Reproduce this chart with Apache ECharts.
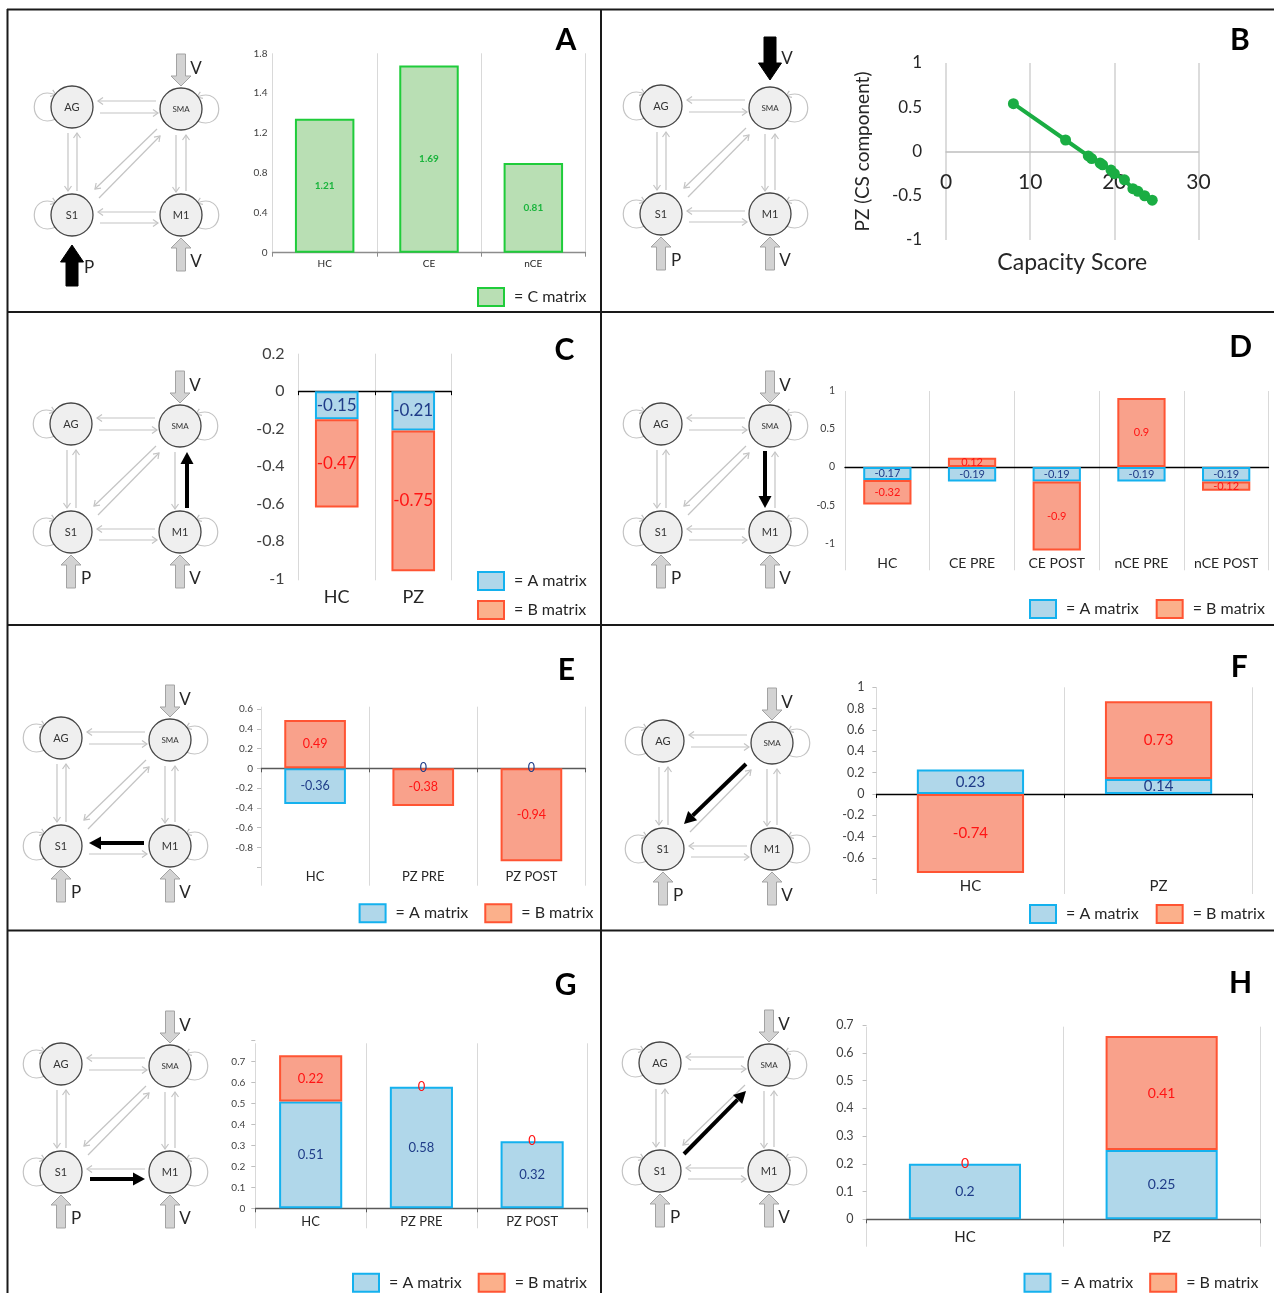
<!DOCTYPE html>
<html><head><meta charset="utf-8">
<script src="https://cdn.jsdelivr.net/npm/echarts@6/dist/echarts.min.js"></script>
<style>html,body{margin:0;padding:0;background:#fff}#c{width:1274px;height:1293px}</style>
</head><body><div id="c"></div>
<script>
// ---------------- DATA ----------------
const catA = ['HC', 'CE', 'nCE'];
const cMatrixA = [1.21, 1.69, 0.81];
const tickLabelsA = ['0', '0.4', '0.8', '1.2', '1.4', '1.8'];

const capacityScoreB = [8.0, 14.2, 16.9, 17.3, 18.3, 18.6, 19.6, 20.0, 21.2, 22.2, 22.8, 23.6, 24.5];
const pzCsB = [0.54, 0.13, -0.05, -0.08, -0.13, -0.15, -0.21, -0.25, -0.32, -0.42, -0.45, -0.50, -0.55];

const catC = ['HC', 'PZ'];
const aC = [-0.15, -0.21];
const bC = [-0.47, -0.75];

const catD = ['HC', 'CE PRE', 'CE POST', 'nCE PRE', 'nCE POST'];
const aD = [-0.17, -0.19, -0.19, -0.19, -0.19];
const bD = [-0.32, 0.12, -0.9, 0.9, -0.12];

const catE = ['HC', 'PZ PRE', 'PZ POST'];
const aE = [-0.36, 0, 0];
const bE = [0.49, -0.38, -0.94];

const catF = ['HC', 'PZ'];
const aF = [0.23, 0.14];
const bF = [-0.74, 0.73];

const catG = ['HC', 'PZ PRE', 'PZ POST'];
const aG = [0.51, 0.58, 0.32];
const bG = [0.22, 0, 0];

const catH = ['HC', 'PZ'];
const aH = [0.2, 0.25];
const bH = [0, 0.41];

// ---------------- STYLE ----------------
const FONT = 'Lato, "Open Sans", sans-serif';
const COL = {
  aFill: '#b0d7ea', aLine: '#14b1ee', aText: '#1f3c88',
  bFill: '#f9a18b', bLine: '#ff5433', bText: '#ff1414',
  cFill: '#b9dfb4', cLine: '#1fcc3a', cText: '#1ab43c'
};

const grids = [], xAxes = [], yAxes = [], series = [], legends = [], graphics = [];

function fmtNum(v) { return String(+v.toFixed(2)); }

function addBarPanel(p) {
  const g0 = grids.length;
  grids.push({left: p.left, top: p.top, width: p.width, height: p.height});
  grids.push({left: p.left, top: p.gTop, width: p.width, height: p.gBottom - p.gTop});
  const x0 = xAxes.length;
  xAxes.push({type: 'category', gridIndex: g0, data: p.cats,
    axisLine: {onZero: true, lineStyle: {color: p.zeroColor, width: 1.3}},
    axisTick: {show: p.zeroTicks, length: 4, interval: 0, lineStyle: {color: p.zeroColor}},
    axisLabel: {show: false}, splitLine: {show: false}});
  xAxes.push({type: 'category', gridIndex: g0 + 1, data: p.cats,
    axisLine: {show: false, onZero: false}, axisTick: {show: false},
    axisLabel: {interval: 0, inside: p.labelInside, margin: p.labelMargin, fontSize: p.catFont, color: '#262626', fontFamily: FONT},
    splitLine: {show: true, interval: 0, lineStyle: {color: '#d9d9d9', width: 1}}});
  const y0 = yAxes.length;
  const hide = p.hide || [];
  yAxes.push({type: 'value', gridIndex: g0, min: p.min, max: p.max, interval: p.interval,
    axisLine: {show: false},
    axisTick: {show: !!p.yTicks, length: 4, lineStyle: {color: '#bfbfbf'}},
    splitLine: {show: false},
    axisLabel: {fontSize: p.tickFont, margin: p.tickMargin, color: '#404040', fontFamily: FONT,
      formatter: p.tickFormatter || (v => hide.some(h => Math.abs(h - v) < 1e-6) ? '' : fmtNum(v))}});
  yAxes.push({type: 'value', gridIndex: g0 + 1, show: false, min: 0, max: 1});
  p.series.forEach(s => {
    series.push({type: 'bar', name: s.name, xAxisIndex: x0, yAxisIndex: y0, stack: 'st' + g0,
      barWidth: '57%', clip: false,
      data: s.data.map(v => v === 0 ? {value: v, itemStyle: {borderWidth: 0}} : v),
      itemStyle: {color: s.fill, borderColor: s.line, borderWidth: 2},
      label: {show: true, position: 'inside', color: s.text, fontSize: p.valFont, fontFamily: FONT,
        fontWeight: s.bold ? 'bold' : 'normal', formatter: d => fmtNum(d.value)}});
  });
  if (p.legend) {
    legends.push(Object.assign({
      padding: 0, itemWidth: 26, itemHeight: 18, itemGap: 16, selectedMode: false, icon: 'rect',
      formatter: '= {name}',
      textStyle: {fontSize: 16, color: '#262626', fontFamily: FONT, padding: [0, 0, 0, 5]}
    }, p.legend));
  }
}

const legAB = [{name: 'A matrix'}, {name: 'B matrix', itemStyle: {color: '#fbb08b'}}];
function abSeries(a, b) {
  return [
    {name: 'A matrix', data: a, fill: COL.aFill, line: COL.aLine, text: COL.aText},
    {name: 'B matrix', data: b, fill: COL.bFill, line: COL.bLine, text: COL.bText}
  ];
}

// Panel A
addBarPanel({cats: catA, left: 272.5, width: 313, top: 53.3, height: 199.4, min: 0, max: 1.8, interval: 0.36,
  tickFormatter: v => tickLabelsA[Math.round(v / 0.36)],
  gTop: 53.3, gBottom: 252.7, zeroColor: '#8c8c8c', zeroTicks: true,
  catFont: 10, labelInside: false, labelMargin: 6, tickFont: 10, tickMargin: 5, valFont: 10,
  series: [{name: 'C matrix', data: cMatrixA, fill: COL.cFill, line: COL.cLine, text: COL.cText, bold: true}],
  legend: {left: 477, top: 287, data: [{name: 'C matrix'}]}});
// Panel C
addBarPanel({cats: catC, left: 298.5, width: 153, top: 353.7, height: 225, min: -1, max: 0.2, interval: 0.2,
  gTop: 353.7, gBottom: 580.3, zeroColor: '#000', zeroTicks: true,
  catFont: 18, labelInside: false, labelMargin: 8, tickFont: 16, tickMargin: 14, valFont: 17,
  series: abSeries(aC, bC),
  legend: {left: 477, top: 571, orient: 'vertical', itemGap: 9, data: legAB}});
// Panel D
addBarPanel({cats: catD, left: 845, width: 423.5, top: 390.3, height: 191.75, min: -1.5, max: 1, interval: 0.5, hide: [-1.5],
  gTop: 391, gBottom: 570.3, zeroColor: '#000', zeroTicks: false,
  catFont: 14, labelInside: true, labelMargin: 0, tickFont: 10.5, tickMargin: 10, valFont: 11,
  series: abSeries(aD, bD),
  legend: {left: 1029, top: 599, itemGap: 17, data: legAB}});
// Panel E
addBarPanel({cats: catE, left: 261, width: 324.5, top: 709, height: 158.2, min: -1, max: 0.6, interval: 0.2, hide: [-1],
  gTop: 706.7, gBottom: 885.7, zeroColor: '#595959', zeroTicks: true, yTicks: true,
  catFont: 13, labelInside: true, labelMargin: 2, tickFont: 10, tickMargin: 8, valFont: 12.5,
  series: abSeries(aE, bE),
  legend: {left: 358.6, top: 903.3, data: legAB}});
// Panel F
addBarPanel({cats: catF, left: 876.4, width: 376.2, top: 687.3, height: 192, min: -0.8, max: 1, interval: 0.2, hide: [-0.8],
  gTop: 687.3, gBottom: 894, zeroColor: '#000', zeroTicks: true, yTicks: true,
  catFont: 15, labelInside: true, labelMargin: 0, tickFont: 12.5, tickMargin: 12, valFont: 15,
  series: abSeries(aF, bF),
  legend: {left: 1029, top: 904, itemGap: 17, data: legAB}});
// Panel G
addBarPanel({cats: catG, left: 255.3, width: 332.2, top: 1040.7, height: 167.6, min: 0, max: 0.8, interval: 0.1, hide: [0.8],
  gTop: 1043.3, gBottom: 1228.3, zeroColor: '#595959', zeroTicks: true, yTicks: true,
  catFont: 13, labelInside: true, labelMargin: 0, tickFont: 10, tickMargin: 10, valFont: 13,
  series: abSeries(aG, bG),
  legend: {left: 352, top: 1272.7, data: legAB}});
// Panel H
addBarPanel({cats: catH, left: 866.6, width: 393.4, top: 1025, height: 194.3, min: 0, max: 0.7, interval: 0.1,
  gTop: 1026.7, gBottom: 1246.7, zeroColor: '#595959', zeroTicks: true, yTicks: true,
  catFont: 15, labelInside: true, labelMargin: 2, tickFont: 12.5, tickMargin: 13, valFont: 14,
  series: abSeries(aH, bH),
  legend: {left: 1023.5, top: 1272.7, data: legAB}});

// Panel B (scatter with line)
(function () {
  const g = grids.length;
  grids.push({left: 946.1, top: 63, width: 252.4, height: 177});
  grids.push({left: 946.1, top: 63, width: 252.4, height: 109});
  const xi = xAxes.length, yi = yAxes.length;
  xAxes.push({type: 'value', gridIndex: g, min: 0, max: 30, interval: 10,
    axisLine: {onZero: true, lineStyle: {color: '#bfbfbf', width: 1.5}}, axisTick: {show: false},
    splitLine: {show: true, lineStyle: {color: '#d0d0d0', width: 1.5}},
    axisLabel: {show: false}});
  xAxes.push({type: 'value', gridIndex: g + 1, min: 0, max: 30, interval: 10,
    axisLine: {show: false, onZero: false}, axisTick: {show: false}, splitLine: {show: false},
    axisLabel: {fontSize: 21, color: '#262626', margin: 0, fontFamily: FONT},
    name: 'Capacity Score', nameLocation: 'middle', nameGap: 79,
    nameTextStyle: {fontSize: 23, color: '#262626', fontFamily: FONT}});
  yAxes.push({type: 'value', gridIndex: g, min: -1, max: 1, interval: 0.5,
    axisLine: {show: false}, axisTick: {show: false}, splitLine: {show: false},
    axisLabel: {fontSize: 17, color: '#262626', margin: 24, fontFamily: FONT},
    name: 'PZ (CS component)', nameLocation: 'middle', nameGap: 74, nameRotate: 90,
    nameTextStyle: {fontSize: 19, color: '#262626', fontFamily: FONT}});
  yAxes.push({type: 'value', gridIndex: g + 1, show: false, min: -1, max: 1});
  series.push({type: 'line', name: 'PZ', xAxisIndex: xi, yAxisIndex: yi,
    data: capacityScoreB.map((x, i) => [x, pzCsB[i]]),
    symbol: 'circle', symbolSize: 11, lineStyle: {color: '#1aad43', width: 4},
    itemStyle: {color: '#1aad43'}});
})();

// ---------------- NETWORK DIAGRAMS (decorative drawings) ----------------
const GRAY = '#c4c4c4';
function lineArrow(x1, y1, x2, y2, color, lw, headLen, headHalf, filled) {
  const ang = Math.atan2(y2 - y1, x2 - x1), c = Math.cos(ang), s = Math.sin(ang);
  const bx = x2 - headLen * c, by = y2 - headLen * s;
  const p1 = [bx - headHalf * s, by + headHalf * c], p2 = [bx + headHalf * s, by - headHalf * c];
  const els = [{type: 'line', silent: true, shape: {x1, y1, x2: filled ? bx : x2, y2: filled ? by : y2},
    style: {stroke: color, lineWidth: lw}}];
  if (filled) els.push({type: 'polygon', silent: true, shape: {points: [p1, [x2, y2], p2]}, style: {fill: color}});
  else els.push({type: 'polyline', silent: true, shape: {points: [p1, [x2, y2], p2]}, style: {stroke: color, lineWidth: lw, fill: null}});
  return els;
}
function blockArrow(tx, ty, dir, L, sw, hw, hl, fill, stroke) {
  const s = dir;
  const pts = [[tx - sw, ty - s * L], [tx + sw, ty - s * L], [tx + sw, ty - s * hl], [tx + hw, ty - s * hl],
    [tx, ty], [tx - hw, ty - s * hl], [tx - sw, ty - s * hl]];
  return {type: 'polygon', silent: true, shape: {points: pts}, style: {fill, stroke, lineWidth: 1}};
}
function loop(cx, cy, side) {
  const x1 = cx + side * 16, y1 = cy - 12, x2 = cx + side * 16, y2 = cy + 12;
  const c1x = cx + side * 45, c1y = cy - 24, c2x = cx + side * 45, c2y = cy + 24;
  const els = [{type: 'bezierCurve', silent: true,
    shape: {x1, y1, x2, y2, cpx1: c1x, cpy1: c1y, cpx2: c2x, cpy2: c2y},
    style: {stroke: GRAY, lineWidth: 1.2, fill: null}}];
  const ang = Math.atan2(y1 - c1y, x1 - c1x), c = Math.cos(ang), s = Math.sin(ang);
  const bx = x1 - 5 * c, by = y1 - 5 * s;
  els.push({type: 'polyline', silent: true,
    shape: {points: [[bx - 3.5 * s, by + 3.5 * c], [x1, y1], [bx + 3.5 * s, by - 3.5 * c]]},
    style: {stroke: GRAY, lineWidth: 1.2, fill: null}});
  return els;
}
function txt(x, y, text, size) {
  return {type: 'text', x, y, silent: true,
    style: {text, fill: '#262626', fontSize: size, fontFamily: FONT, align: 'center', verticalAlign: 'middle'}};
}
function diagram(ax, ay, hl) {
  const dx = 109, dy = 108;
  const AG = [ax, ay], SMA = [ax + dx, ay + 2], S1 = [ax, ay + dy], M1 = [ax + dx, ay + dy];
  const conns = {
    SMAtoAG: [ax + 84, ay - 6, ax + 26, ay - 6],
    AGtoSMA: [ax + 28, ay + 6, ax + 86, ay + 6],
    AGtoS1: [ax - 4, ay + 26, ax - 4, ay + 84],
    S1toAG: [ax + 5, ay + 84, ax + 5, ay + 26],
    SMAtoM1: [ax + dx - 5, ay + 28, ax + dx - 5, ay + 85],
    M1toSMA: [ax + dx + 5, ay + 84, ax + dx + 5, ay + 28],
    M1toS1: [ax + 84, ay + dy - 3, ax + 26, ay + dy - 3],
    S1toM1: [ax + 28, ay + dy + 8, ax + 86, ay + dy + 8],
    SMAtoS1: [ax + 85, ay + 22, ax + 23, ay + 82],
    S1toSMA: [ax + 27, ay + 91, ax + 88, ay + 29]
  };
  const els = [];
  Object.keys(conns).forEach(k => {
    if (hl.conn === k) return;
    const c = conns[k];
    els.push(...lineArrow(c[0], c[1], c[2], c[3], GRAY, 1.2, 5, 3.5, false));
  });
  if (hl.conn) {
    const c = hl.coords;
    els.push(...lineArrow(c[0], c[1], c[2], c[3], '#000', 4, 12, 6.5, true));
  }
  els.push(...loop(AG[0], AG[1], -1), ...loop(S1[0], S1[1], -1), ...loop(SMA[0], SMA[1], 1), ...loop(M1[0], M1[1], 1));
  [[AG, 'AG', 11], [SMA, 'SMA', 8], [S1, 'S1', 11], [M1, 'M1', 11]].forEach(n => {
    els.push({type: 'circle', silent: true, shape: {cx: n[0][0], cy: n[0][1], r: 21},
      style: {fill: '#efefef', stroke: '#454545', lineWidth: 1.3}});
    const t = txt(n[0][0], n[0][1], n[1], n[2]);
    t.style.fill = '#333';
    els.push(t);
  });
  const gf = '#d3d3d3', gs = '#a3a3a3';
  if (hl.input === 'V') {
    els.push(blockArrow(SMA[0], SMA[1] - 28, 1, 43, 6, 11.5, 17, '#000', '#000'));
    els.push(txt(SMA[0] + 17, SMA[1] - 49, 'V', 17));
  } else {
    els.push(blockArrow(SMA[0], SMA[1] - 23, 1, 32, 4.5, 10, 10, gf, gs));
    els.push(txt(SMA[0] + 15, SMA[1] - 40, 'V', 17));
  }
  els.push(blockArrow(M1[0], M1[1] + 23, -1, 33, 4.5, 10, 10, gf, gs));
  els.push(txt(M1[0] + 15, M1[1] + 47, 'V', 17));
  if (hl.input === 'P') {
    els.push(blockArrow(S1[0], S1[1] + 30, -1, 41, 6, 11.5, 17, '#000', '#000'));
    els.push(txt(S1[0] + 17, S1[1] + 53, 'P', 17));
  } else {
    els.push(blockArrow(S1[0], S1[1] + 23, -1, 33, 4.5, 10, 10, gf, gs));
    els.push(txt(S1[0] + 15, S1[1] + 47, 'P', 17));
  }
  graphics.push(...els);
}

diagram(72, 107, {input: 'P'});
diagram(661, 106, {input: 'V'});
diagram(71, 424, {conn: 'M1toSMA', coords: [71 + 109 + 7, 424 + 108 - 24, 71 + 109 + 7, 424 + 28]});
diagram(661, 424, {conn: 'SMAtoM1', coords: [661 + 109 - 5, 424 + 27, 661 + 109 - 5, 424 + 108 - 24]});
diagram(61, 738, {conn: 'M1toS1', coords: [61 + 109 - 26, 738 + 108 - 3, 61 + 28, 738 + 108 - 3]});
diagram(663, 741, {conn: 'SMAtoS1', coords: [663 + 83, 741 + 23, 663 + 21, 741 + 83]});
diagram(61, 1064, {conn: 'S1toM1', coords: [61 + 29, 1064 + 108 + 7, 61 + 84, 1064 + 108 + 7]});
diagram(660, 1063, {conn: 'S1toSMA', coords: [660 + 24, 1063 + 91, 660 + 86, 1063 + 28]});

// panel letters
[['A', 566, 40], ['B', 1240, 40], ['C', 564.5, 350], ['D', 1240.6, 347], ['E', 566.4, 670.7],
 ['F', 1239.3, 667.3], ['G', 565.6, 985], ['H', 1240.6, 983.3]].forEach(l => {
  graphics.push({type: 'text', x: l[1], y: l[2], silent: true,
    style: {text: l[0], fill: '#000', fontSize: 30, fontWeight: 'bold', fontFamily: FONT, align: 'center', verticalAlign: 'middle'}});
});

// panel frame lines
[[7, 9.5, 1274, 9.5], [7.5, 9, 7.5, 1293], [601, 9, 601, 1293],
 [7, 312, 1274, 312], [7, 625, 1274, 625], [7, 930.5, 1274, 930.5]].forEach(l => {
  graphics.push({type: 'line', silent: true, z: 100, shape: {x1: l[0], y1: l[1], x2: l[2], y2: l[3]},
    style: {stroke: '#1a1a1a', lineWidth: 2}});
});

const chart = echarts.init(document.getElementById('c'), null, {renderer: 'canvas', width: 1274, height: 1293});
chart.setOption({
  animation: false,
  backgroundColor: '#fff',
  textStyle: {fontFamily: FONT},
  grid: grids, xAxis: xAxes, yAxis: yAxes, series, legend: legends,
  graphic: {elements: graphics}
});
</script></body></html>
